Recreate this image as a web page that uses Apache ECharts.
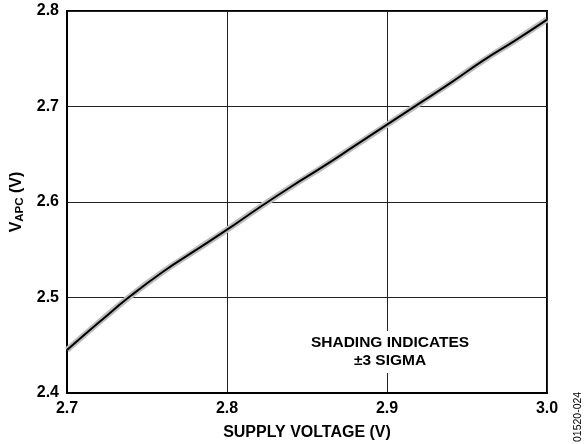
<!DOCTYPE html>
<html>
<head>
<meta charset="utf-8">
<script src="https://cdn.jsdelivr.net/npm/echarts@6/dist/echarts.min.js"></script>
<style>html,body{margin:0;padding:0;background:#fff;}#c{width:588px;height:444px;}</style>
</head>
<body>
<div id="c"></div>
<script>
var supplyVoltage = [2.70, 2.72, 2.74, 2.76, 2.78, 2.80, 2.82, 2.84, 2.86, 2.88, 2.90, 2.92, 2.94, 2.96, 2.98, 3.00];
var vapc = [2.445, 2.474, 2.502, 2.527, 2.549, 2.571, 2.594, 2.616, 2.637, 2.659, 2.681, 2.703, 2.725, 2.748, 2.769, 2.791];
var xTicks = [2.7, 2.8, 2.9, 3.0];
var yTicks = [2.4, 2.5, 2.6, 2.7, 2.8];

var pts = supplyVoltage.map(function (x, i) { return [x, vapc[i]]; });
var font = 'Liberation Sans, Arial, sans-serif';
var chart = echarts.init(document.getElementById('c'));
chart.setOption({
  animation: false,
  backgroundColor: '#fff',
  grid: { left: 67, right: 41, top: 11, bottom: 51, show: true, borderColor: '#000', borderWidth: 2,
    backgroundColor: 'transparent', containLabel: false, outerBoundsMode: 'none' },
  xAxis: {
    type: 'value', min: 2.7, max: 3.0, interval: 0.1,
    name: 'SUPPLY VOLTAGE (V)', nameLocation: 'middle', nameGap: 32,
    nameTextStyle: { fontFamily: font, fontWeight: 'bold', fontSize: 16, color: '#000' },
    axisLine: { show: true, lineStyle: { color: '#000', width: 2 } },
    axisTick: { show: false },
    axisLabel: { fontFamily: font, fontWeight: 'bold', fontSize: 16, color: '#000', margin: 8,
      formatter: function (v) { return v.toFixed(1); } },
    splitLine: { show: true, lineStyle: { color: '#222', width: 1 } }
  },
  yAxis: {
    type: 'value', min: 2.4, max: 2.8, interval: 0.1,
    name: '{v|V}{s|APC}{v| (V)}', nameLocation: 'middle', nameGap: 38, nameRotate: 90,
    nameTextStyle: { rich: {
      v: { fontFamily: font, fontWeight: 'bold', fontSize: 16, color: '#000' },
      s: { fontFamily: font, fontWeight: 'bold', fontSize: 11.5, color: '#000', verticalAlign: 'bottom', padding: [7, 0, 0, 0] }
    } },
    axisLine: { show: true, lineStyle: { color: '#000', width: 2 } },
    axisTick: { show: false },
    axisLabel: { fontFamily: font, fontWeight: 'bold', fontSize: 16, color: '#000', margin: 8,
      formatter: function (v) { return v.toFixed(1); } },
    splitLine: { show: true, lineStyle: { color: '#222', width: 1 } }
  },
  title: {
    text: 'SHADING INDICATES\n±3 SIGMA', left: 388, top: 331, textAlign: 'center',
    backgroundColor: '#fff', padding: [3, 2, 3, 2],
    textStyle: { fontFamily: font, fontWeight: 'bold', fontSize: 15.5, color: '#000', lineHeight: 18, align: 'center' }
  },
  graphic: [{
    type: 'text', x: 573, y: 442, rotation: Math.PI / 2,
    style: { text: '01520-024', fontFamily: font, fontSize: 10.5, fill: '#000', align: 'left', verticalAlign: 'top' }
  }],
  series: [
    { type: 'line', data: pts, smooth: true, symbol: 'none', lineStyle: { color: '#bdbdbd', width: 6 }, z: 2 },
    { type: 'line', data: pts, smooth: true, symbol: 'none', lineStyle: { color: '#000', width: 2 }, z: 3 }
  ]
});
</script>
</body>
</html>
